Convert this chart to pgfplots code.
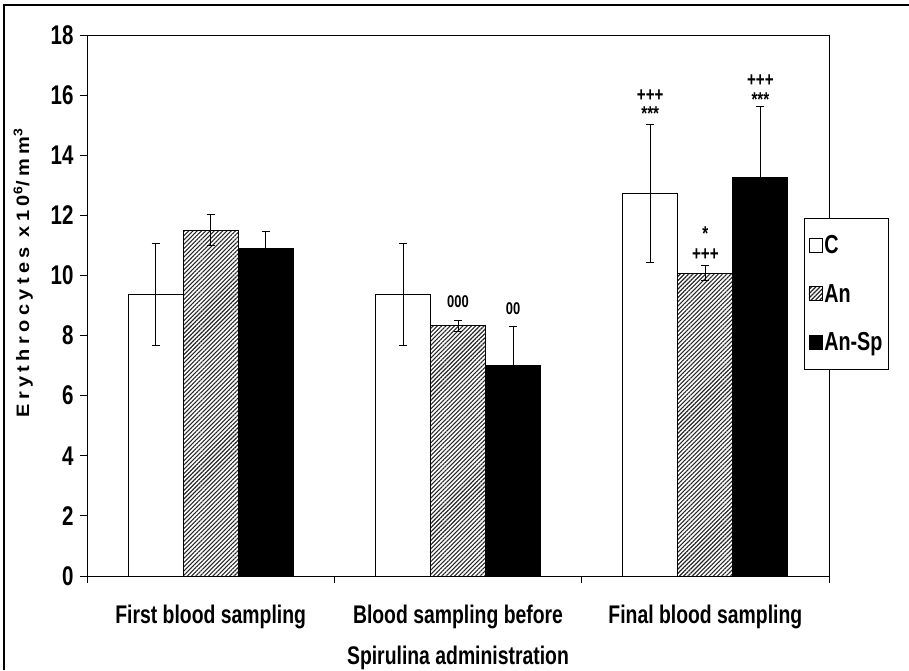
\documentclass[border=0pt]{standalone}
\usepackage{fontspec}
\setmainfont{Liberation Sans}[FakeStretch=0.76]
\newfontfamily\ylabfont{Liberation Sans}[LetterSpace=22]
\usepackage{graphicx}
\usepackage{pgfplots}
\pgfplotsset{compat=1.18}
\usetikzlibrary{patterns.meta}

\begin{document}
\begin{tikzpicture}
\path[use as bounding box] (0pt,0pt) rectangle (909pt,670pt);
\draw[line width=2pt] (4pt,0pt) -- (4pt,665pt) -- (909pt,665pt);
\begin{axis}[
  at={(87pt,94pt)}, anchor=south west,
  scale only axis, width=742pt, height=541pt,
  ybar=0pt, bar width=55pt,
  xmin=-0.5, xmax=2.5, ymin=0, ymax=18,
  ytick={0,2,...,18},
  xtick={-0.5,0.5,1.5,2.5}, xticklabels={},
  extra x ticks={0,1,2},
  extra x tick labels={First blood sampling,{Blood sampling before\\Spirulina administration},Final blood sampling},
  extra x tick style={major tick length=0pt},
  xtick pos=bottom, ytick pos=left,
  tick align=outside, major tick length=7pt,
  axis line style={line width=0.8pt},
  tick style={line width=0.8pt, black},
  /pgf/number format/assume math mode=true,
  yticklabel style={font=\fontsize{27}{30}\selectfont\bfseries, xshift=-3pt},
  xticklabel style={align=center, font=\fontsize{25.5}{41}\selectfont\bfseries, yshift=-25pt},
  ylabel={\ylabfont\bfseries\fontsize{20}{20}\selectfont\scalebox{1}[0.9]{Erythrocytes x10\textsuperscript{6}/mm\textsuperscript{3}}},
  ylabel style={at={(axis description cs:-0.086,0.56)}, anchor=center},
  legend style={at={(axis description cs:0.9663,0.6617)}, anchor=north west,
    draw=black, line width=1pt, font=\fontsize{26}{28}\selectfont\bfseries,
    row sep=25pt, inner xsep=4pt, inner ysep=15pt, fill=white},
  legend cell align=left,
  legend image code/.code={\draw[#1, line width=0.8pt] (0pt,-7pt) rectangle (13pt,7pt);},
  error bars/error bar style={line width=1pt, black},
  error bars/error mark options={line width=1pt, black, mark size=4pt, rotate=90},
]
\addplot[fill=white, draw=black, line width=0.8pt,
  error bars/.cd, y dir=both, y explicit]
  coordinates {(0,9.37) +- (0,1.7) (1,9.37) +- (0,1.7) (2,12.72) +- (0,2.29)};
\addplot[pattern={Lines[angle=45,distance=3pt,line width=1.1pt]}, pattern color=black!85, draw=black, line width=0.8pt,
  error bars/.cd, y dir=both, y explicit]
  coordinates {(0,11.51) +- (0,0.53) (1,8.33) +- (0,0.18) (2,10.07) +- (0,0.25)};
\addplot[fill=black, draw=black, line width=0.8pt,
  error bars/.cd, y dir=both, y explicit]
  coordinates {(0,10.89) +- (0,0.58) (1,7.01) +- (0,1.28) (2,13.26) +- (0,2.35)};
\legend{C,An,An-Sp}
\begin{scope}[every node/.style={font=\fontsize{20}{20}\selectfont\bfseries, inner sep=0pt}]
\node at (axis cs:1.7773,15.97) {+++};
\node at (axis cs:1.7773,15.38) {***};
\node at (axis cs:2.2227,16.47) {+++};
\node at (axis cs:2.2227,15.86) {***};
\node at (axis cs:2,11.38) {*};
\node at (axis cs:2,10.70) {+++};
\node[font=\fontsize{17}{17}\selectfont\bfseries] at (axis cs:1,9.13) {000};
\node[font=\fontsize{17}{17}\selectfont\bfseries] at (axis cs:1.2227,8.90) {00};
\end{scope}
\end{axis}
\end{tikzpicture}
\end{document}
